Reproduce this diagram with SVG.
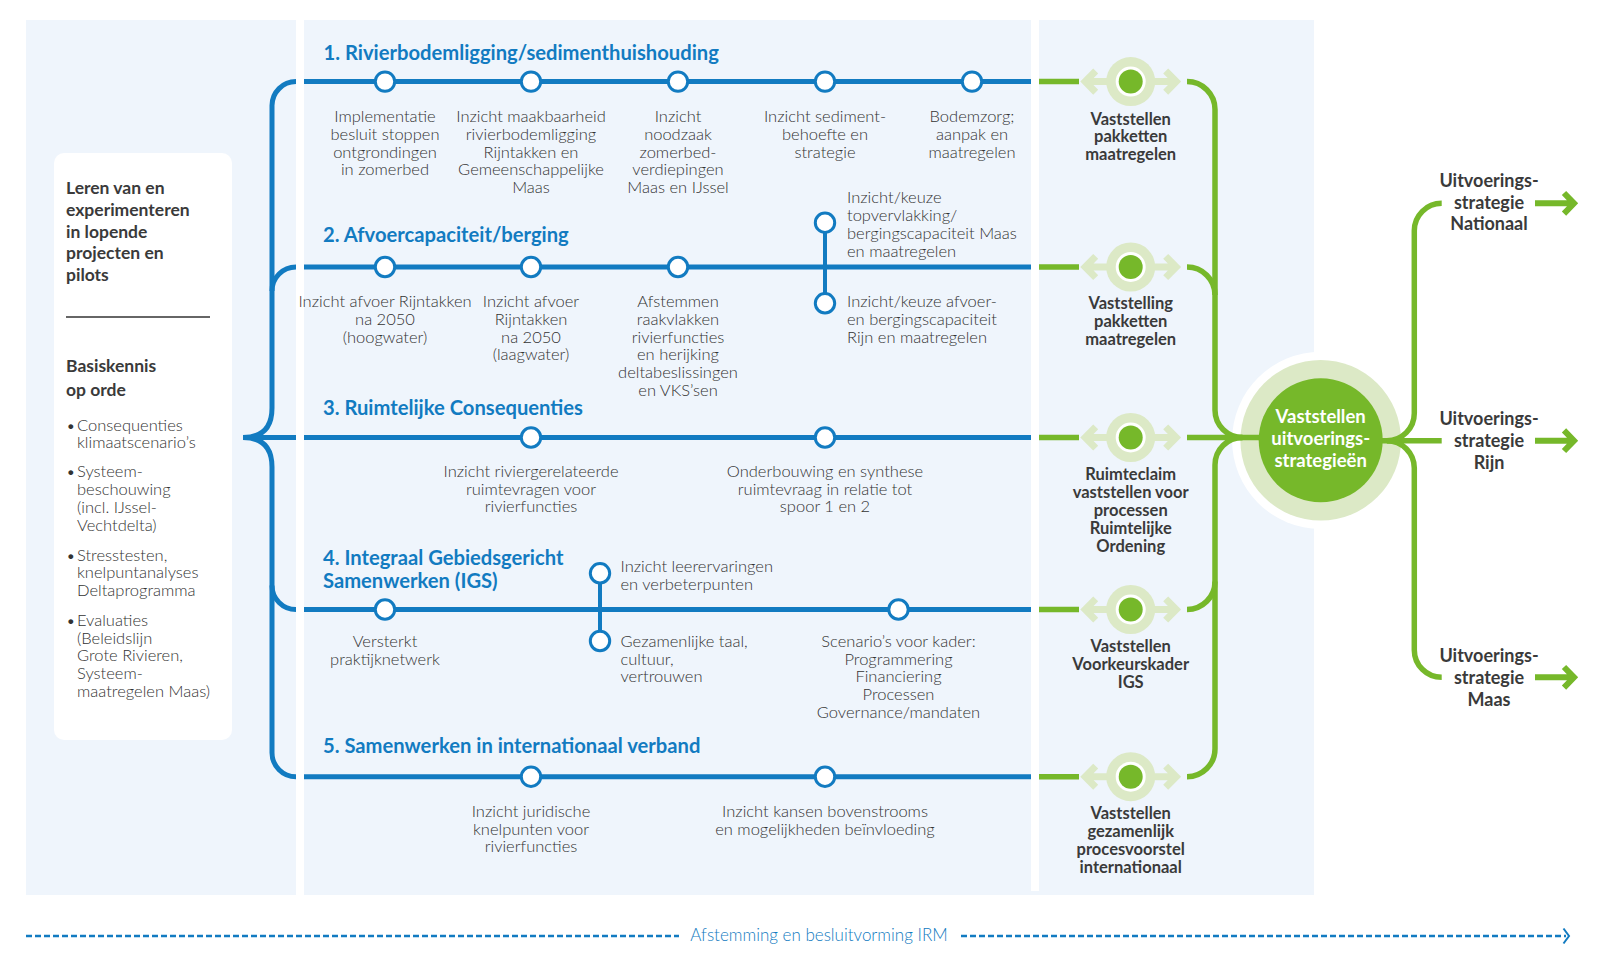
<svg xmlns="http://www.w3.org/2000/svg" xmlns:xlink="http://www.w3.org/1999/xlink" width="1600" height="965" viewBox="0 0 1600 965">
<style>
.panel{fill:#eff5fc}
.t{font-family:Lato,"Liberation Sans",sans-serif;font-weight:300;font-size:16.5px;fill:#333;text-anchor:middle}
.tl{font-family:Lato,"Liberation Sans",sans-serif;font-weight:300;font-size:16.5px;fill:#333;text-anchor:start}
.ttl{font-family:Lato,"Liberation Sans",sans-serif;font-weight:700;font-size:20.2px;fill:#127bc1}
.g{font-family:Lato,"Liberation Sans",sans-serif;font-weight:700;font-size:16.5px;fill:#3a3a3a;text-anchor:middle}
.r{font-family:Lato,"Liberation Sans",sans-serif;font-weight:700;font-size:18px;fill:#3a3a3a;text-anchor:middle}
.lb{font-family:Lato,"Liberation Sans",sans-serif;font-weight:700;font-size:17.5px;fill:#3a3a3a}
.ll{font-family:Lato,"Liberation Sans",sans-serif;font-weight:300;font-size:16.5px;fill:#333}
.blue{stroke:#127bc1;stroke-width:5;fill:none}
.bbr{stroke:#127bc1;stroke-width:4;fill:none}
.green{stroke:#76b82a;stroke-width:5.5;fill:none}
.node{fill:#fff;stroke:#127bc1;stroke-width:3}
</style>
<defs>
<g id="gate">
<path d="M-45,0 H47 M-35,-10.6 L-45.5,0 L-35,10.6 M35,-10.6 L45.5,0 L35,10.6" stroke="#dce9c6" stroke-width="7" fill="none"/>
<circle r="24.5" fill="#dce9c6"/>
<circle r="15" fill="#fff"/>
<circle r="12" fill="#76b82a"/>
</g>
<g id="outarrow">
<path d="M0,0 H38 M29,-10.3 L39,0 L29,10.3" stroke="#76b82a" stroke-width="6" fill="none"/>
</g>
</defs>

<g id="background">
<rect class="panel" x="26" y="20" width="270" height="875"/>
<rect class="panel" x="304" y="20" width="1010" height="875"/>
<rect x="1031" y="20" width="8" height="871" fill="#fff"/>
<circle cx="1320.7" cy="440.3" r="88.6" fill="#fff"/>
<circle cx="1320.7" cy="440.3" r="80.3" fill="#dce9c6"/>
</g>

<g id="left-box">
<rect x="54" y="153" width="178" height="587" rx="10" fill="#fff"/>
<text class="lb" x="66" y="194">Leren van en</text>
<text class="lb" x="66" y="216">experimenteren</text>
<text class="lb" x="66" y="237.7">in lopende</text>
<text class="lb" x="66" y="259.3">projecten en</text>
<text class="lb" x="66" y="281">pilots</text>
<line x1="66" y1="317" x2="210" y2="317" stroke="#333" stroke-width="1.5"/>
<text class="lb" x="66" y="372.3">Basiskennis</text>
<text class="lb" x="66" y="396">op orde</text>
<g class="ll">
<text x="66" y="430.5">•</text><text x="77" y="430.5">Consequenties</text>
<text x="77" y="447.8">klimaatscenario’s</text>
<text x="66" y="477.3">•</text><text x="77" y="477.3">Systeem-</text>
<text x="77" y="495">beschouwing</text>
<text x="77" y="512.8">(incl. IJssel-</text>
<text x="77" y="530.5">Vechtdelta)</text>
<text x="66" y="560.8">•</text><text x="77" y="560.8">Stresstesten,</text>
<text x="77" y="578.2">knelpuntanalyses</text>
<text x="77" y="595.6">Deltaprogramma</text>
<text x="66" y="625.8">•</text><text x="77" y="625.8">Evaluaties</text>
<text x="77" y="643.6">(Beleidslijn</text>
<text x="77" y="661.4">Grote Rivieren,</text>
<text x="77" y="679.2">Systeem-</text>
<text x="77" y="697">maatregelen Maas)</text>
</g>
</g>

<g id="connectors">
<path class="blue" d="M296,81.6 A24,24 0 0 0 272,105.6 V408 Q272,437.5 243,437.5"/>
<path class="blue" d="M243,437.5 Q272,437.5 272,467 V752.7 A24,24 0 0 0 296,776.7"/>
<path class="blue" d="M296,267 A24,24 0 0 0 272,291"/>
<path class="blue" d="M296,609.5 A24,24 0 0 1 272,585.5"/>
<path class="blue" d="M243,437.5 H296"/>
<path class="blue" d="M304,81.6 H1031 M304,267 H1031 M304,437.5 H1031 M304,609.5 H1031 M304,776.7 H1031"/>
<path class="bbr" d="M825,222.7 V303.3 M600,573.3 V641"/>
<path class="green" d="M1039,81.6 H1079 M1039,267 H1079 M1039,437.5 H1079 M1039,609.5 H1079 M1039,776.7 H1079"/>
<path class="green" d="M1187,81.6 A28,28 0 0 1 1215,109.6 V410 A27.5,27.5 0 0 0 1242.5,437.5"/>
<path class="green" d="M1187,267 A28,28 0 0 1 1215,295"/>
<path class="green" d="M1187,437.5 H1265"/>
<path class="green" d="M1242.5,437.5 A27.5,27.5 0 0 0 1215,465 V748.7 A28,28 0 0 1 1187,776.7"/>
<path class="green" d="M1187,609.5 A28,28 0 0 0 1215,581.5"/>
<path class="green" d="M1375,440.7 H1441.7"/>
<path class="green" d="M1441.7,203.3 A27.4,27.4 0 0 0 1414.3,230.7 V413.3 A27.4,27.4 0 0 1 1386.9,440.7"/>
<path class="green" d="M1386.9,440.7 A27.4,27.4 0 0 1 1414.3,468.1 V649.9 A27.4,27.4 0 0 0 1441.7,677.3"/>
<use xlink:href="#outarrow" href="#outarrow" x="1535" y="203.3"/>
<use xlink:href="#outarrow" href="#outarrow" x="1535" y="440.7"/>
<use xlink:href="#outarrow" href="#outarrow" x="1535" y="677.3"/>
</g>

<g id="track1">
<text class="ttl" x="323.5" y="60">1. Rivierbodemligging/sedimenthuishouding</text>
<circle class="node" cx="385" cy="81.6" r="9.7"/>
<circle class="node" cx="531" cy="81.6" r="9.7"/>
<circle class="node" cx="678" cy="81.6" r="9.7"/>
<circle class="node" cx="825" cy="81.6" r="9.7"/>
<circle class="node" cx="972" cy="81.6" r="9.7"/>
<text class="t" x="385" y="122">Implementatie</text>
<text class="t" x="385" y="139.8">besluit stoppen</text>
<text class="t" x="385" y="157.6">ontgrondingen</text>
<text class="t" x="385" y="175.4">in zomerbed</text>
<text class="t" x="531" y="122">Inzicht maakbaarheid</text>
<text class="t" x="531" y="139.8">rivierbodemligging</text>
<text class="t" x="531" y="157.6">Rijntakken en</text>
<text class="t" x="531" y="175.4">Gemeenschappelijke</text>
<text class="t" x="531" y="193.2">Maas</text>
<text class="t" x="678" y="122">Inzicht</text>
<text class="t" x="678" y="139.8">noodzaak</text>
<text class="t" x="678" y="157.6">zomerbed-</text>
<text class="t" x="678" y="175.4">verdiepingen</text>
<text class="t" x="678" y="193.2">Maas en IJssel</text>
<text class="t" x="825" y="122">Inzicht sediment-</text>
<text class="t" x="825" y="139.8">behoefte en</text>
<text class="t" x="825" y="157.6">strategie</text>
<text class="t" x="972" y="122">Bodemzorg;</text>
<text class="t" x="972" y="139.8">aanpak en</text>
<text class="t" x="972" y="157.6">maatregelen</text>
</g>

<g id="track2">
<text class="ttl" x="323" y="242">2. Afvoercapaciteit/berging</text>
<circle class="node" cx="385" cy="267" r="9.7"/>
<circle class="node" cx="531" cy="267" r="9.7"/>
<circle class="node" cx="678" cy="267" r="9.7"/>
<circle class="node" cx="825" cy="222.7" r="9.7"/>
<circle class="node" cx="825" cy="303.3" r="9.7"/>
<text class="t" x="385" y="307">Inzicht afvoer Rijntakken</text>
<text class="t" x="385" y="324.8">na 2050</text>
<text class="t" x="385" y="342.6">(hoogwater)</text>
<text class="t" x="531" y="307">Inzicht afvoer</text>
<text class="t" x="531" y="324.8">Rijntakken</text>
<text class="t" x="531" y="342.6">na 2050</text>
<text class="t" x="531" y="360.4">(laagwater)</text>
<text class="t" x="678" y="307">Afstemmen</text>
<text class="t" x="678" y="324.8">raakvlakken</text>
<text class="t" x="678" y="342.6">rivierfuncties</text>
<text class="t" x="678" y="360.4">en herijking</text>
<text class="t" x="678" y="378.2">deltabeslissingen</text>
<text class="t" x="678" y="396">en VKS’sen</text>
<text class="tl" x="847" y="203.3">Inzicht/keuze</text>
<text class="tl" x="847" y="221.1">topvervlakking/</text>
<text class="tl" x="847" y="238.9">bergingscapaciteit Maas</text>
<text class="tl" x="847" y="256.7">en maatregelen</text>
<text class="tl" x="847" y="307">Inzicht/keuze afvoer-</text>
<text class="tl" x="847" y="324.8">en bergingscapaciteit</text>
<text class="tl" x="847" y="342.6">Rijn en maatregelen</text>
</g>

<g id="track3">
<text class="ttl" x="323" y="415">3. Ruimtelijke Consequenties</text>
<circle class="node" cx="531" cy="437.5" r="9.7"/>
<circle class="node" cx="825" cy="437.5" r="9.7"/>
<text class="t" x="531" y="476.7">Inzicht riviergerelateerde</text>
<text class="t" x="531" y="494.5">ruimtevragen voor</text>
<text class="t" x="531" y="512.3">rivierfuncties</text>
<text class="t" x="825" y="476.7">Onderbouwing en synthese</text>
<text class="t" x="825" y="494.5">ruimtevraag in relatie tot</text>
<text class="t" x="825" y="512.3">spoor 1 en 2</text>
</g>

<g id="track4">
<text class="ttl" x="323" y="565">4. Integraal Gebiedsgericht</text>
<text class="ttl" x="323" y="588.3">Samenwerken (IGS)</text>
<circle class="node" cx="385" cy="609.5" r="9.7"/>
<circle class="node" cx="898.5" cy="609.5" r="9.7"/>
<circle class="node" cx="600" cy="573.3" r="9.7"/>
<circle class="node" cx="600" cy="641" r="9.7"/>
<text class="t" x="385" y="646.7">Versterkt</text>
<text class="t" x="385" y="664.5">praktijknetwerk</text>
<text class="tl" x="620.5" y="571.7">Inzicht leerervaringen</text>
<text class="tl" x="620.5" y="589.5">en verbeterpunten</text>
<text class="tl" x="620.5" y="646.7">Gezamenlijke taal,</text>
<text class="tl" x="620.5" y="664.5">cultuur,</text>
<text class="tl" x="620.5" y="682.3">vertrouwen</text>
<text class="t" x="898.5" y="646.7">Scenario’s voor kader:</text>
<text class="t" x="898.5" y="664.5">Programmering</text>
<text class="t" x="898.5" y="682.3">Financiering</text>
<text class="t" x="898.5" y="700.1">Processen</text>
<text class="t" x="898.5" y="717.9">Governance/mandaten</text>
</g>

<g id="track5">
<text class="ttl" x="323" y="753.3">5. Samenwerken in internationaal verband</text>
<circle class="node" cx="531" cy="776.7" r="9.7"/>
<circle class="node" cx="825" cy="776.7" r="9.7"/>
<text class="t" x="531" y="816.7">Inzicht juridische</text>
<text class="t" x="531" y="834.5">knelpunten voor</text>
<text class="t" x="531" y="852.3">rivierfuncties</text>
<text class="t" x="825" y="816.7">Inzicht kansen bovenstrooms</text>
<text class="t" x="825" y="834.5">en mogelijkheden beïnvloeding</text>
</g>

<g id="gate1">
<use xlink:href="#gate" href="#gate" x="1130.7" y="81.6"/>
<text class="g" x="1130.7" y="124.5">Vaststellen</text>
<text class="g" x="1130.7" y="142.4">pakketten</text>
<text class="g" x="1130.7" y="160.3">maatregelen</text>
</g>
<g id="gate2">
<use xlink:href="#gate" href="#gate" x="1130.7" y="267"/>
<text class="g" x="1130.7" y="309.3">Vaststelling</text>
<text class="g" x="1130.7" y="327.2">pakketten</text>
<text class="g" x="1130.7" y="345.1">maatregelen</text>
</g>
<g id="gate3">
<use xlink:href="#gate" href="#gate" x="1130.7" y="437.5"/>
<text class="g" x="1130.7" y="480">Ruimteclaim</text>
<text class="g" x="1130.7" y="497.9">vaststellen voor</text>
<text class="g" x="1130.7" y="515.8">processen</text>
<text class="g" x="1130.7" y="533.7">Ruimtelijke</text>
<text class="g" x="1130.7" y="551.6">Ordening</text>
</g>
<g id="gate4">
<use xlink:href="#gate" href="#gate" x="1130.7" y="609.5"/>
<text class="g" x="1130.7" y="652.3">Vaststellen</text>
<text class="g" x="1130.7" y="670.2">Voorkeurskader</text>
<text class="g" x="1130.7" y="688.1">IGS</text>
</g>
<g id="gate5">
<use xlink:href="#gate" href="#gate" x="1130.7" y="776.7"/>
<text class="g" x="1130.7" y="819">Vaststellen</text>
<text class="g" x="1130.7" y="836.9">gezamenlijk</text>
<text class="g" x="1130.7" y="854.8">procesvoorstel</text>
<text class="g" x="1130.7" y="872.7">internationaal</text>
</g>

<g id="center">
<circle cx="1320.7" cy="440.3" r="62" fill="#76b82a"/>
<g font-family="Lato,'Liberation Sans',sans-serif" font-weight="700" font-size="18.5" fill="#fff" text-anchor="middle">
<text x="1320.7" y="422.7">Vaststellen</text>
<text x="1320.7" y="444.8">uitvoerings-</text>
<text x="1320.7" y="466.7">strategieën</text>
</g>
</g>

<g id="out-nationaal">
<text class="r" x="1489" y="186.7">Uitvoerings-</text>
<text class="r" x="1489" y="208.5">strategie</text>
<text class="r" x="1489" y="230.3">Nationaal</text>
</g>
<g id="out-rijn">
<text class="r" x="1489" y="425">Uitvoerings-</text>
<text class="r" x="1489" y="447">strategie</text>
<text class="r" x="1489" y="469">Rijn</text>
</g>
<g id="out-maas">
<text class="r" x="1489" y="662">Uitvoerings-</text>
<text class="r" x="1489" y="683.7">strategie</text>
<text class="r" x="1489" y="705.5">Maas</text>
</g>

<g id="timeline">
<path d="M26,936 H679 M961,936 H1566" stroke="#127bc1" stroke-width="2.5" stroke-dasharray="6 3" fill="none"/>
<path d="M1563.5,928.5 L1569,936 L1563.5,943.5" stroke="#127bc1" stroke-width="2" fill="none"/>
<text x="819" y="941" font-family="Lato,'Liberation Sans',sans-serif" font-weight="300" font-size="17" fill="#127bc1" text-anchor="middle">Afstemming en besluitvorming IRM</text>
</g>
</svg>
